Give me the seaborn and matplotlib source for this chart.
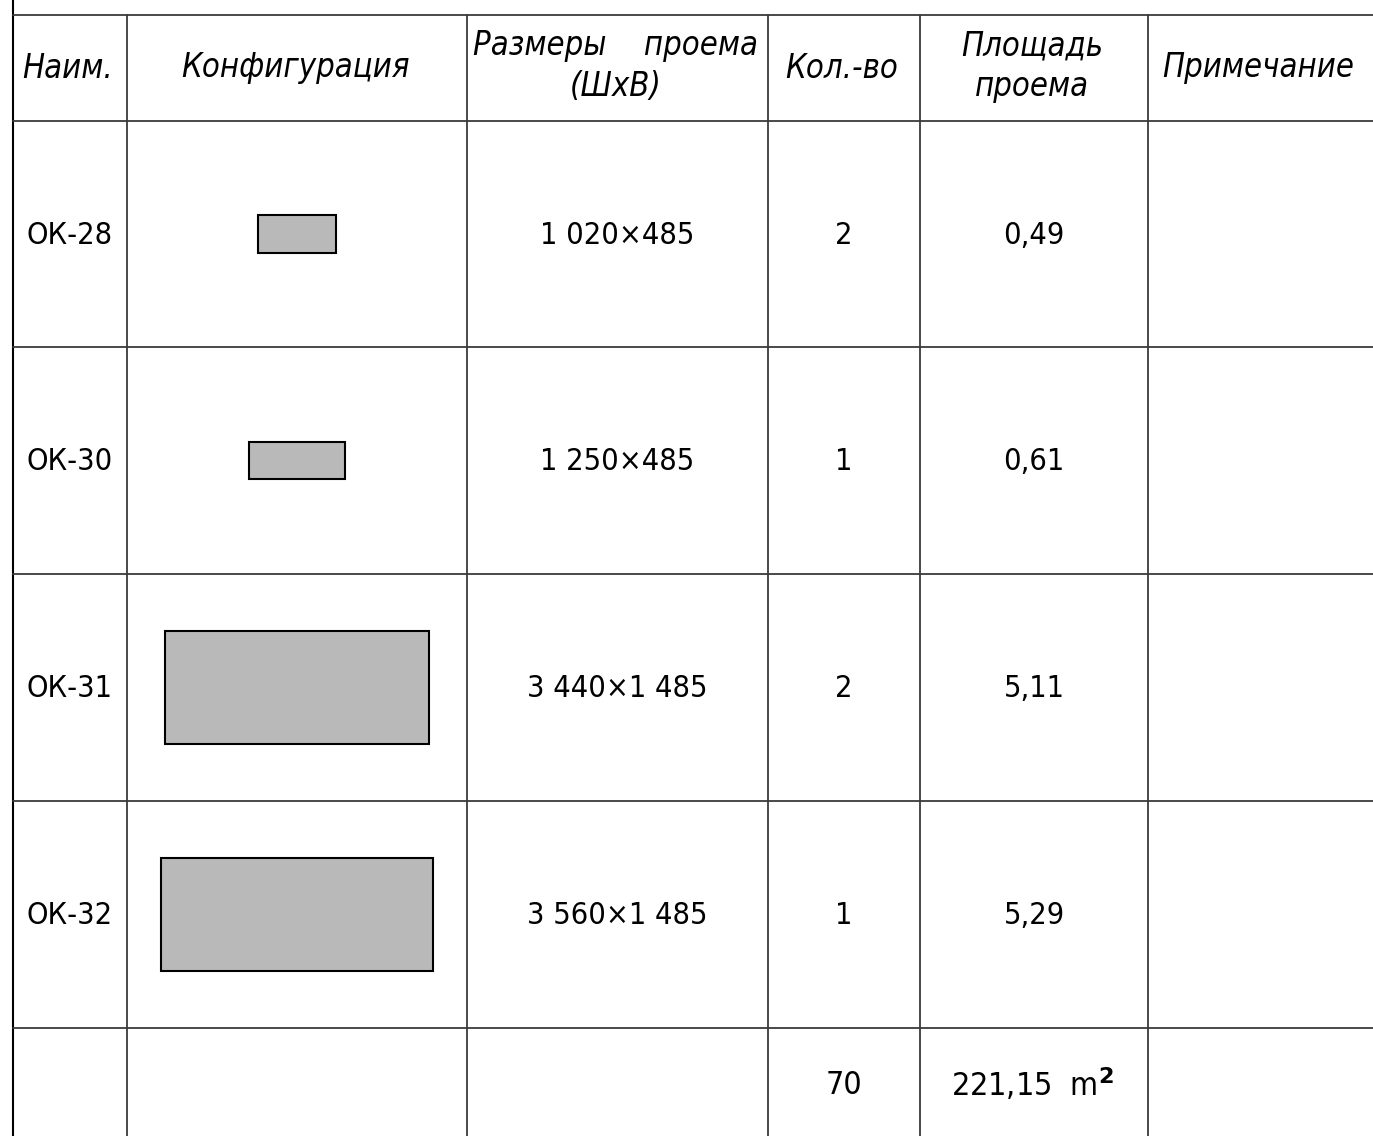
import matplotlib
matplotlib.use("Agg")
import matplotlib.pyplot as plt
import seaborn as sns
from matplotlib.patches import Rectangle

# ---------------------------------------------
# DATA
# ---------------------------------------------
names = ["ОК-28", "ОК-30", "ОК-31", "ОК-32"]
widths_mm = [1020, 1250, 3440, 3560]
heights_mm = [485, 485, 1485, 1485]
counts = [2, 1, 2, 1]
areas = [0.49, 0.61, 5.11, 5.29]
total_count = 70
total_area = 221.15

headers = ["Наим.", "Конфигурация", "Размеры    проема\n(ШхВ)", "Кол.-во",
           "Площадь\nпроема", "Примечание"]

# ---------------------------------------------
# LAYOUT (pixels)
# ---------------------------------------------
W, H = 1373, 1136
col_x = [13, 127, 467, 768, 920, 1148, W]
row_y = [15, 121, 347, 574, 801, 1028, H]
mm_to_px = 0.0765


def fmt_int(v):
    return f"{v:,}".replace(",", " ")


def fmt_dec(v):
    return f"{v:.2f}".replace(".", ",")


sns.set_theme(style="white")
plt.rcParams["font.family"] = ["DejaVu Sans"]

fig = plt.figure(figsize=(W / 100, H / 100), dpi=100)
ax = fig.add_axes([0, 0, 1, 1])
ax.set_xlim(0, W)
ax.set_ylim(H, 0)
ax.axis("off")

line_kw = dict(color="#3a3a3a", lw=1.3)
# grid lines
ax.plot([col_x[0], col_x[0]], [0, H], color="black", lw=1.5)
for y in row_y[:-1]:
    ax.plot([col_x[0], W], [y, y], **line_kw)
for x in col_x[1:-1]:
    ax.plot([x, x], [row_y[0], H], **line_kw)

centers = [(col_x[i] + col_x[i + 1]) / 2 for i in range(len(col_x) - 1)]

head_font = dict(fontsize=23.5, style="italic", fontstretch="condensed",
                 ha="center", va="center", linespacing=1.3, color="black")
body_font = dict(fontsize=22, fontstretch="condensed", ha="center",
                 va="center", color="black")

hy = (row_y[0] + row_y[1]) / 2
for i, h in enumerate(headers):
    ax.text(centers[i] - 2, hy - (2 if "\n" in h else 0), h, **head_font)

for r, name in enumerate(names):
    cy = (row_y[r + 1] + row_y[r + 2]) / 2 + 1
    ax.text(centers[0], cy, name, **body_font)
    w = widths_mm[r] * mm_to_px
    h = heights_mm[r] * mm_to_px
    ax.add_patch(Rectangle((centers[1] - w / 2, cy - 1 - h / 2), w, h,
                           facecolor="#b9b9b9", edgecolor="black", lw=1.5))
    ax.text(centers[2], cy, f"{fmt_int(widths_mm[r])}×{fmt_int(heights_mm[r])}",
            **body_font)
    ax.text(centers[3], cy, str(counts[r]), **body_font)
    ax.text(centers[4], cy, fmt_dec(areas[r]), **body_font)

total_font = dict(body_font, fontsize=23)
ty = (row_y[5] + H) / 2 + 3
ax.text(centers[3], ty, str(total_count), **total_font)
ax.text(centers[4] - 2, ty, f"{fmt_dec(total_area)}  m$^\\mathbf{{2}}$", **total_font)

fig.savefig("out.png", dpi=100, facecolor="white")
